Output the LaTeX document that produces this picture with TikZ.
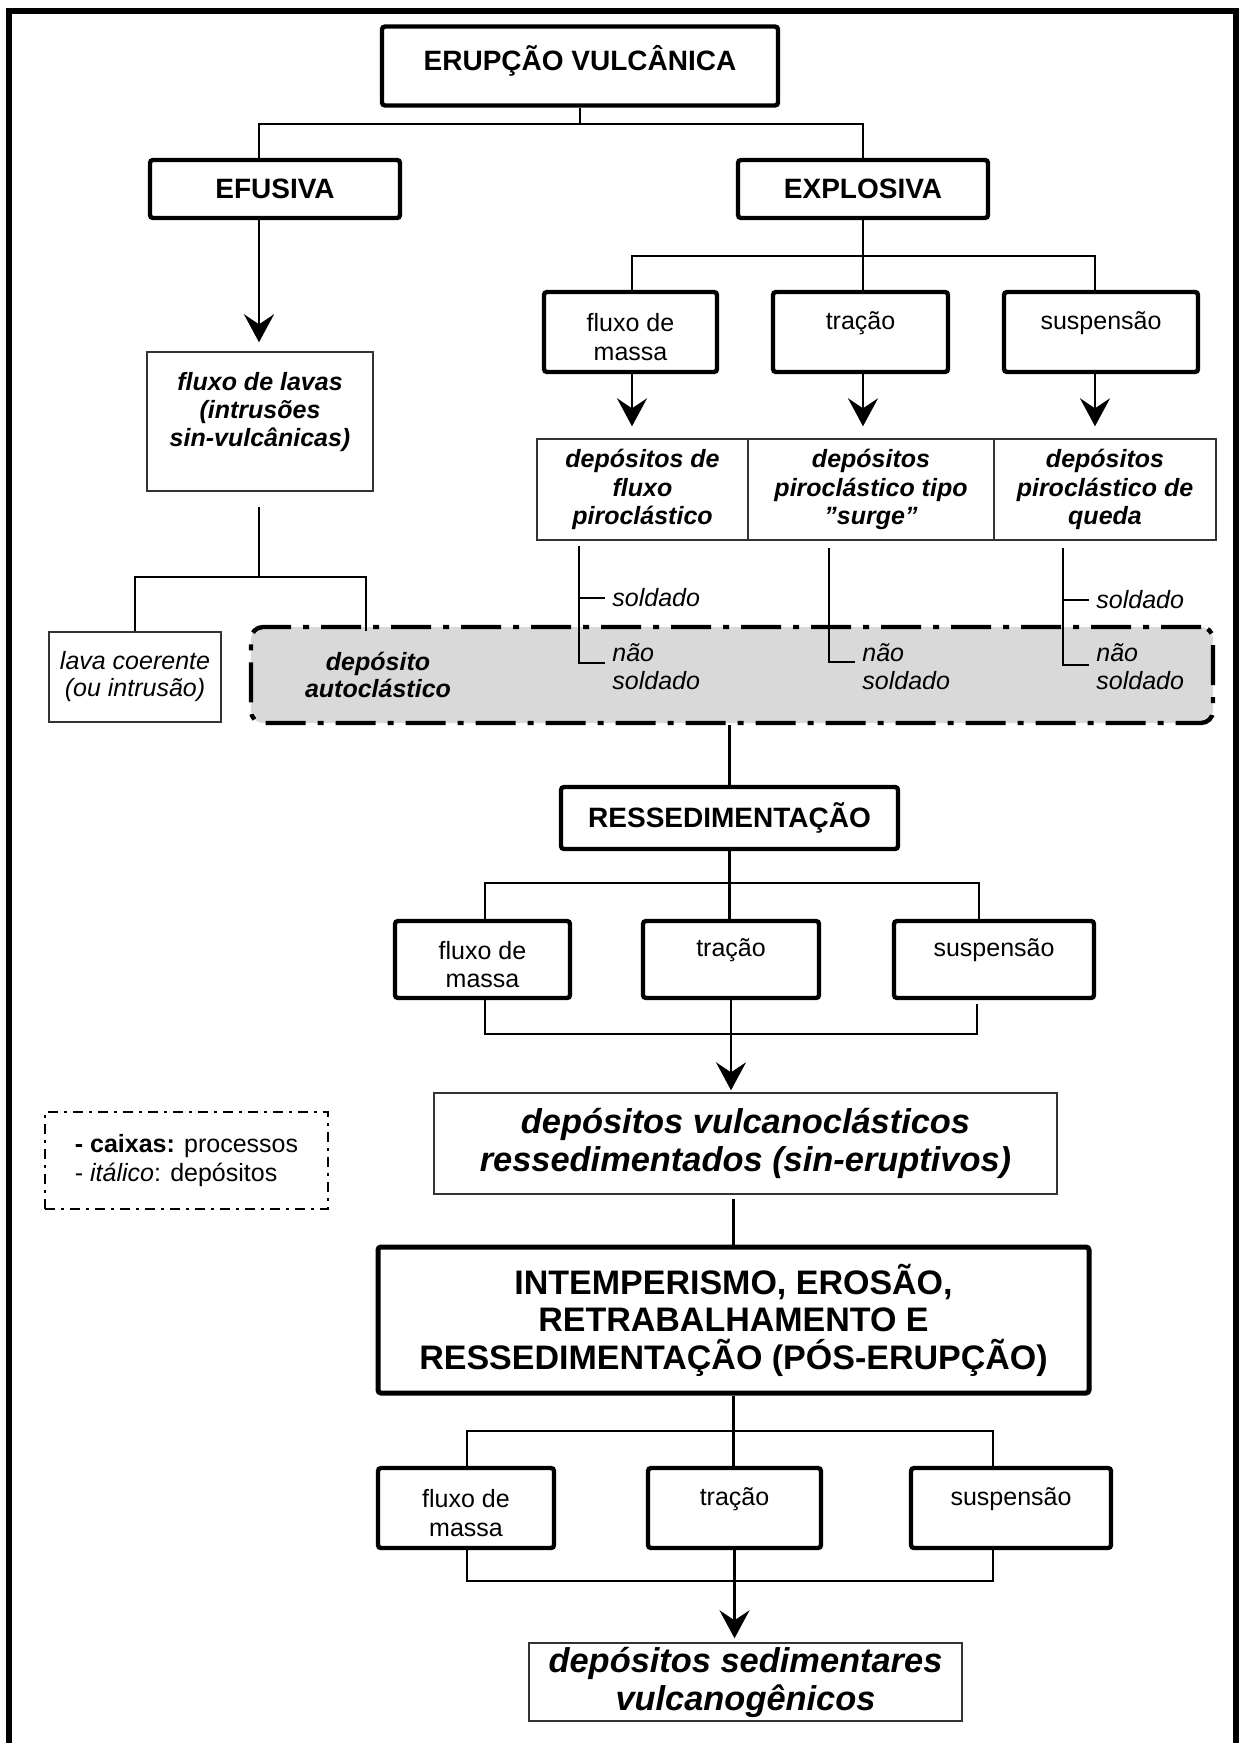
\documentclass[tikz,border=0pt]{standalone}
\usepackage{fontspec}
\setmainfont{Liberation Sans}
\usetikzlibrary{arrows.meta,calc}

\tikzset{
  caixa/.style={draw, line width=2.2pt, rounded corners=1.5pt, fill=white, align=center, inner sep=0pt, font=\fontsize{12.5}{14.2}\selectfont},
  titulo/.style={caixa, font=\fontsize{14}{16.8}\selectfont\bfseries},
  deposito/.style={draw=black!80, line width=0.7pt, fill=white, align=center, inner sep=0pt, font=\fontsize{12.5}{14.2}\selectfont\bfseries\itshape},
  grande/.style={font=\fontsize{17.2}{19}\selectfont\bfseries\itshape},
  liga/.style={line width=1.2pt},
  seta/.style={liga, -{Stealth[length=14pt,width=15pt,inset=5pt]}},
  rotulo/.style={anchor=west, align=left, inner sep=0pt, font=\fontsize{12.5}{14}\selectfont\itshape},
}
\newcommand{\acima}{\rule{0pt}{14.1pt}}
\newcommand{\abaixo}{\rule[-11.6pt]{0pt}{0pt}}

\begin{document}
\begin{tikzpicture}[x=0.5pt, y=-0.5pt]
\useasboundingbox (0,0) rectangle (1240,1743);
\draw[line width=3.2pt, line join=miter] (9,1750) -- (9,11) -- (1236,11) -- (1236,1750);

\node[titulo, minimum width=198pt, minimum height=39.5pt] (erupcao) at (580,66) {ERUPÇÃO VULCÂNICA\rule[-7.7pt]{0pt}{0pt}};
\node[titulo, minimum width=125pt, minimum height=29pt] (efusiva) at (275,189) {EFUSIVA};
\node[titulo, minimum width=125pt, minimum height=29pt] (explosiva) at (863,189) {EXPLOSIVA};

\node[deposito, minimum width=113pt, minimum height=69.5pt] (lavas) at (260,421.5) {fluxo de lavas\\(intrusões\\sin-vulcânicas)\rule[-12.1pt]{0pt}{0pt}};

\node[caixa, minimum width=86.5pt, minimum height=40pt] (massa1) at (630.5,332) {\acima fluxo de\\massa};
\node[caixa, minimum width=87.5pt, minimum height=40pt] (tracao1) at (860.5,332) {tração\abaixo};
\node[caixa, minimum width=97pt, minimum height=40pt] (susp1) at (1101,332) {suspensão\abaixo};

\node[deposito, minimum width=105.5pt, minimum height=50.5pt] (dep1) at (642.5,489.5) {depósitos de\\fluxo\\piroclástico};
\node[deposito, minimum width=123pt, minimum height=50.5pt] (dep2) at (871,489.5) {depósitos\\piroclástico tipo\\”surge”};
\node[deposito, minimum width=111pt, minimum height=50.5pt] (dep3) at (1105,489.5) {depósitos\\piroclástico de\\queda};

\node[draw, line width=2.2pt, rounded corners=6pt, fill=black!15, dash pattern=on 20pt off 6pt on 3pt off 6pt, minimum width=481pt, minimum height=48pt] (cinza) at (732,675) {};
\node[align=center, inner sep=0pt, font=\fontsize{12.5}{13.5}\selectfont\bfseries\itshape] (auto) at (378,675) {depósito\\autoclástico};
\node[draw=black!80, line width=0.7pt, fill=white, align=center, inner sep=0pt, minimum width=86pt, minimum height=45pt, font=\fontsize{12.5}{13.5}\selectfont\itshape] (coerente) at (135,677) {lava coerente\\(ou intrusão)};

\node[rotulo] (sold1) at (612,598) {soldado};
\node[rotulo] (nao1) at (612,667) {não\\soldado};
\node[rotulo] (nao2) at (862,667) {não\\soldado};
\node[rotulo] (sold3) at (1096,600) {soldado};
\node[rotulo] (nao3) at (1096,667) {não\\soldado};

\node[titulo, minimum width=168.5pt, minimum height=31pt] (ressed) at (729.5,818) {RESSEDIMENTAÇÃO};
\node[caixa, minimum width=87.5pt, minimum height=38.5pt] (massa2) at (482.5,959.5) {\acima fluxo de\\massa};
\node[caixa, minimum width=88pt, minimum height=38.5pt] (tracao2) at (731,959.5) {tração\abaixo};
\node[caixa, minimum width=100pt, minimum height=38.5pt] (susp2) at (994,959.5) {suspensão\abaixo};
\node[deposito, grande, minimum width=311.5pt, minimum height=50.5pt] (vulcan) at (745.5,1143.5) {depósitos vulcanoclásticos\\ressedimentados (sin-eruptivos)};

\node[draw, line width=1.3pt, dash pattern=on 5pt off 3pt on 1.5pt off 3pt, align=left, inner sep=0pt, minimum width=141.5pt, minimum height=48.5pt, font=\fontsize{12.5}{14.5}\selectfont] (legenda) at (186.5,1160.5) {\textbf{- caixas:} processos\\- \textit{itálico}: depósitos};

\node[caixa, line width=2.5pt, font=\fontsize{17}{18.75}\selectfont\bfseries, minimum width=355.5pt, minimum height=73pt] (intemp) at (733.5,1320) {INTEMPERISMO, EROSÃO,\\RETRABALHAMENTO E\\RESSEDIMENTAÇÃO (PÓS-ERUPÇÃO)};
\node[caixa, minimum width=88pt, minimum height=40pt] (massa3) at (466,1508) {\acima fluxo de\\massa};
\node[caixa, minimum width=86.5pt, minimum height=40pt] (tracao3) at (734.5,1508) {tração\abaixo};
\node[caixa, minimum width=100pt, minimum height=40pt] (susp3) at (1011,1508) {suspensão\abaixo};
\node[deposito, grande, minimum width=216.5pt, minimum height=39pt] (sedim) at (745.5,1682) {depósitos sedimentares\\vulcanogênicos};

% erupcao
\coordinate (ef) at (259,124);
\coordinate (ex) at (863,124);
\draw[liga] (erupcao.south) -- (erupcao.south |- ef);
\draw[liga] (ef |- efusiva.north) -- (ef) -- (ex) -- (explosiva.north);
\draw[seta, shorten >=4.5pt] (ef |- efusiva.south) -- (ef |- lavas.north);

% explosiva
\coordinate (x1) at (632,256);
\coordinate (x3) at (1095,256);
\draw[liga] (explosiva.south) -- (explosiva.south |- tracao1.north);
\draw[liga] (x1 |- massa1.north) -- (x1) -- (x3) -- (x3 |- susp1.north);
\draw[seta, shorten >=6pt] (x1 |- massa1.south) -- (x1 |- dep1.north);
\draw[seta, shorten >=6pt] (explosiva.south |- tracao1.south) -- (explosiva.south |- dep2.north);
\draw[seta, shorten >=6pt] (x3 |- susp1.south) -- (x3 |- dep3.north);

\coordinate (t1) at (579,546);
\coordinate (t2) at (829,548);
\coordinate (t3) at (1063,548);
\draw[liga] (t1) |- ([xshift=-3.5pt]sold1.west);
\draw[liga] (t1) |- ([xshift=-3.5pt,yshift=2pt]nao1.west);
\draw[liga] (t2) |- ([xshift=-3.5pt,yshift=2.5pt]nao2.west);
\draw[liga] (t3) |- ([xshift=-3.5pt]sold3.west);
\draw[liga] (t3) |- ([xshift=-3.5pt,yshift=1pt]nao3.west);

% efusiva
\coordinate (l0) at (259,507);
\coordinate (l1) at (135,577);
\coordinate (l2) at (366,577);
\draw[liga] (l0) -- (l0 |- l1);
\draw[liga] (coerente.north) -- (l1) -- (l2) -- ([yshift=-3pt]l2 |- cinza.north);

% ressedimentacao
\draw[liga] (cinza.south -| ressed) -- (ressed.north);
\coordinate (r1) at (485,883);
\coordinate (r3) at (979,883);
\coordinate (r4) at (485,1034);
\coordinate (r6) at (977,1034);
\draw[liga] (ressed.south) -- (ressed.south |- tracao2.north);
\draw[liga] (r1 |- massa2.north) -- (r1) -- (r3) -- (r3 |- susp2.north);
\draw[liga] (r4 |- massa2.south) -- (r4) -- (r6) -- ([yshift=-2pt]r6 |- susp2.south);
\draw[seta, shorten >=1pt] (tracao2.south) -- (tracao2.south |- vulcan.north);

% intemperismo
\draw[liga] ([yshift=-2pt]vulcan.south -| intemp) -- (intemp.north);
\coordinate (i1) at (467,1431);
\coordinate (i3) at (993,1431);
\coordinate (i4) at (467,1581);
\coordinate (i6) at (993,1581);
\draw[liga] (intemp.south) -- (intemp.south |- tracao3.north);
\draw[liga] (i1 |- massa3.north) -- (i1) -- (i3) -- (i3 |- susp3.north);
\draw[liga] (i4 |- massa3.south) -- (i4) -- (i6) -- (i6 |- susp3.south);
\draw[seta, shorten >=2pt] (tracao3.south) -- (tracao3.south |- sedim.north);
\end{tikzpicture}
\end{document}
